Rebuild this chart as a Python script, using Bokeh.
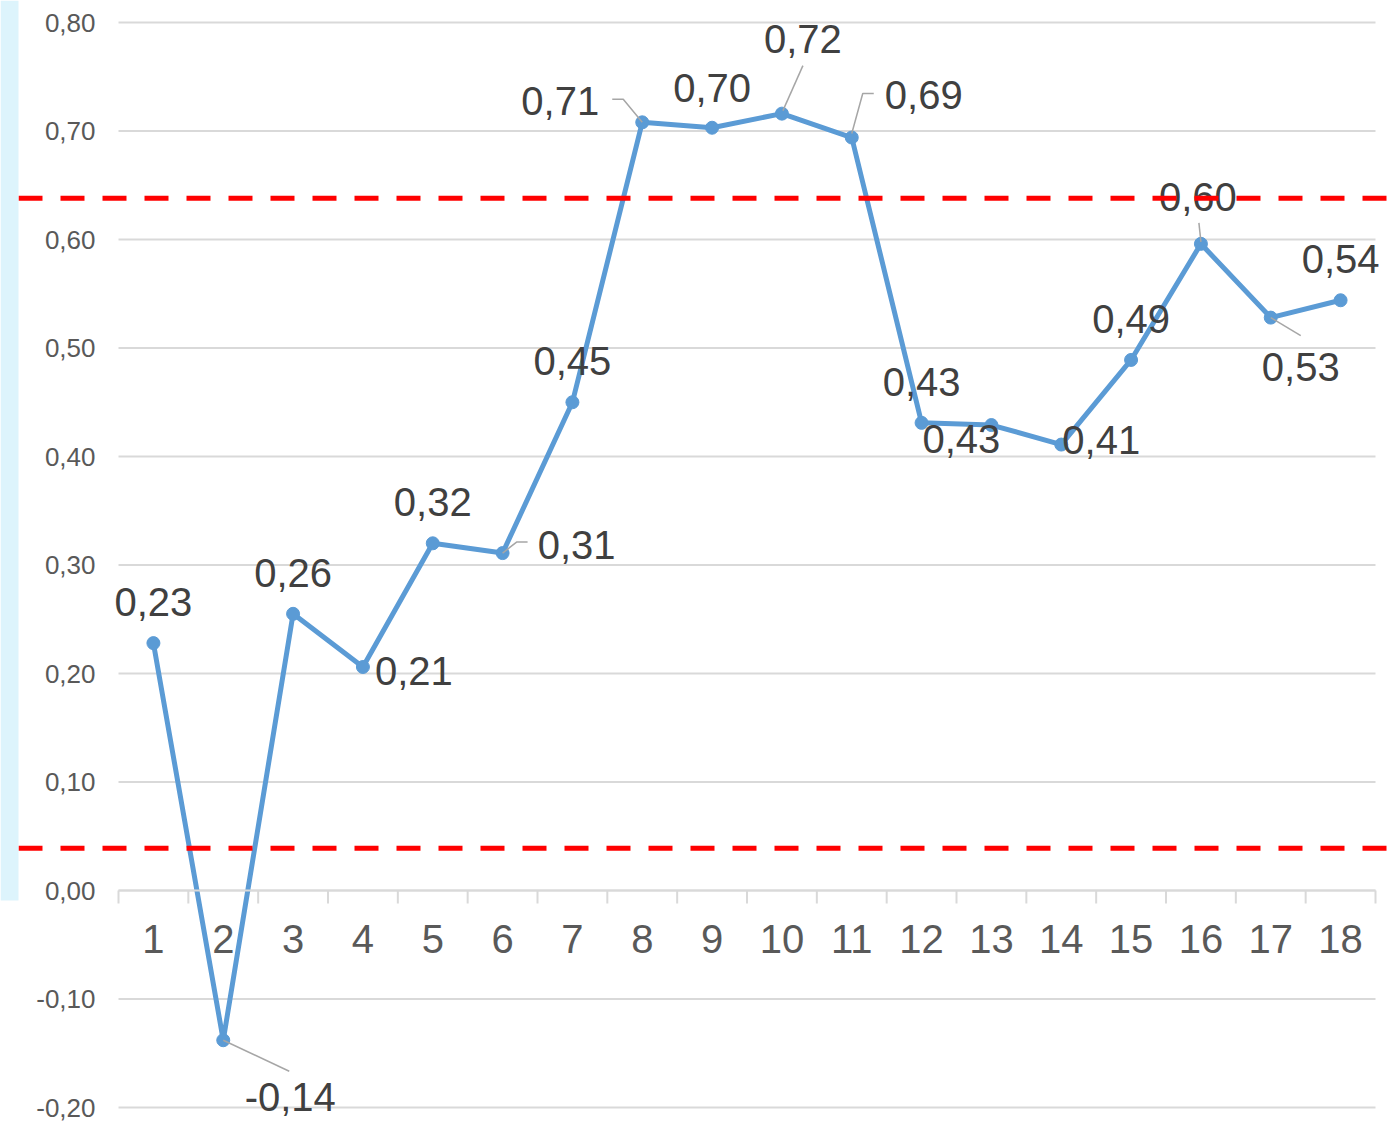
from bokeh.plotting import figure
from bokeh.models import LinearAxis, FixedTicker, Span, BoxAnnotation, Range1d, ColumnDataSource
from bokeh.embed import file_html
from bokeh.resources import INLINE
from bokeh.core.properties import value

# ---------------- data ----------------
categories = list(range(1, 19))
values = [0.228, -0.138, 0.255, 0.206, 0.320, 0.311, 0.450, 0.708, 0.703,
          0.716, 0.694, 0.431, 0.429, 0.411, 0.489, 0.596, 0.528, 0.544]
y_ticks = [-0.2, -0.1, 0.0, 0.1, 0.2, 0.3, 0.4, 0.5, 0.6, 0.7, 0.8]
y_tick_labels = ["-0,20", "-0,10", "0,00", "0,10", "0,20", "0,30",
                 "0,40", "0,50", "0,60", "0,70", "0,80"]
x_tick_labels = [str(c) for c in categories]
upper_limit = 0.638
lower_limit = 0.039

# ---------------- label placement (pixels) ----------------
label_dx = [0, 67, 0, 51, 0, 74, 0, -82, 0, 21, 72, 0, -30, 40, 0, -3, 30, 0]
label_dy = [-41, 57, -41, 4, -41, -8, -41, -21, -40, -75, -43, -41, 14, -5, -41, -47, 49, -41]
leaders = {
    2: [(0, 0), (66, 31)],
    6: [(0, 0), (14, -11), (25, -11)],
    8: [(-30, -23), (-19, -23), (0, 0)],
    10: [(21, -48), (1, -3)],
    11: [(0, -4), (11, -44), (22, -44)],
    16: [(-2, -21), (0, -2)],
    17: [(0, 0), (30, 18)],
}

W, H = 1395, 1122
X_PX = 1257 / 18.0          # pixels per category
Y_PX = 1085.0               # pixels per 1.0 value
x_start = 0.5 - 118 / X_PX
x_end = x_start + W / X_PX
y_end = 0.8 + 22 / Y_PX
y_start = y_end - H / Y_PX

p = figure(width=W, height=H, output_backend="svg", toolbar_location=None,
           x_range=Range1d(x_start, x_end), y_range=Range1d(y_start, y_end),
           x_axis_type=None, y_axis_type=None,
           min_border=0, min_border_left=0, min_border_right=0,
           min_border_top=0, min_border_bottom=0)
p.outline_line_color = None
p.background_fill_color = "white"
p.border_fill_color = "white"

FONT = "Liberation Sans"
GRID = "#d9d9d9"

# gridlines
lo, hi = categories[0] - 0.5, categories[-1] + 0.5
p.segment(x0=[lo] * len(y_ticks), x1=[hi] * len(y_ticks), y0=y_ticks, y1=y_ticks,
          line_color=GRID, line_width=2)

# category boundary tick marks
bounds = [c - 0.5 for c in categories] + [categories[-1] + 0.5]
p.segment(x0=bounds, x1=bounds, y0=[0] * len(bounds), y1=[-13 / Y_PX] * len(bounds),
          line_color=GRID, line_width=2)

# y axis
yaxis = LinearAxis(ticker=FixedTicker(ticks=y_ticks), fixed_location=lo)
yaxis.major_label_overrides = {t: l for t, l in zip(y_ticks, y_tick_labels)}
yaxis.axis_line_color = None
yaxis.major_tick_line_color = None
yaxis.minor_tick_line_color = None
yaxis.major_tick_out = 0
yaxis.major_tick_in = 0
yaxis.major_label_standoff = 23
yaxis.major_label_text_font = FONT
yaxis.major_label_text_font_size = "26px"
yaxis.major_label_text_color = "#595959"
p.add_layout(yaxis, "left")

# x axis at y = 0
xaxis = LinearAxis(ticker=FixedTicker(ticks=categories), fixed_location=0, bounds=(lo, hi))
xaxis.major_label_overrides = {c: l for c, l in zip(categories, x_tick_labels)}
xaxis.axis_line_color = GRID
xaxis.axis_line_width = 2
xaxis.major_tick_line_color = None
xaxis.minor_tick_line_color = None
xaxis.major_tick_out = 0
xaxis.major_tick_in = 0
xaxis.major_label_standoff = 34
xaxis.major_label_text_font = FONT
xaxis.major_label_text_font_size = "40px"
xaxis.major_label_text_color = "#595959"
p.add_layout(xaxis, "below")

# series
LINE = "#5b9bd5"
p.line(categories, values, line_color=LINE, line_width=5)
p.scatter(categories, values, size=13, fill_color=LINE, line_color=LINE)

# leader lines
lx, ly = [], []
for idx, pts in leaders.items():
    cx, cy = categories[idx - 1], values[idx - 1]
    lx.append([cx + dx / X_PX for dx, dy in pts])
    ly.append([cy - dy / Y_PX for dx, dy in pts])
p.multi_line(lx, ly, line_color="#a6a6a6", line_width=1.5)

# data labels
src = ColumnDataSource(dict(
    x=categories, y=values,
    t=[f"{v:.2f}".replace(".", ",") for v in values],
    dx=label_dx, dy=label_dy))
p.text(x="x", y="y", text="t", x_offset="dx", y_offset="dy", source=src,
       text_align="center", text_baseline="middle",
       text_font=value(FONT), text_font_size="40px", text_color="#404040")

# control limits
for lim in (upper_limit, lower_limit):
    p.add_layout(Span(location=lim, dimension="width", line_color="#ff0000",
                      line_width=5, line_dash="24 18", line_dash_offset=24))

# decorative left strip
p.add_layout(BoxAnnotation(left=0, right=18, top=0, bottom=900,
                           left_units="canvas", right_units="canvas",
                           top_units="canvas", bottom_units="canvas",
                           fill_color="#ddf4fc", fill_alpha=1.0, line_color=None))

open("out.html", "w").write(file_html(p, INLINE))
